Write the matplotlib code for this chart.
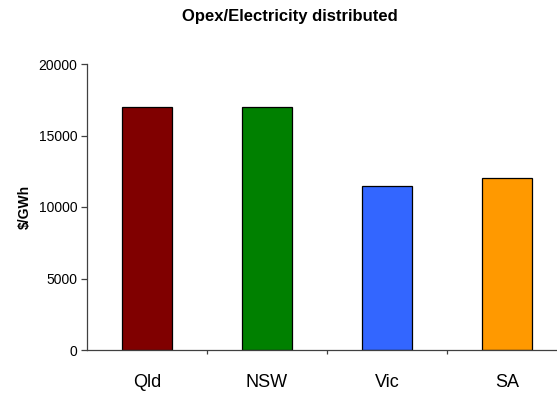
import numpy as np
import matplotlib.pyplot as plt

plt.rcParams['font.family'] = ['Liberation Sans', 'DejaVu Sans']

# opex per unit of electricity distributed, by state
states = ['Qld', 'NSW', 'Vic', 'SA']
opex_per_gwh = [17000, 17000, 11500, 12000]
bar_colors = ['#800000', '#008000', '#3366FF', '#FF9900']

fig = plt.figure(figsize=(5.57, 3.93), dpi=100)
ax = fig.add_axes([87 / 557, 43 / 393, 480 / 557, 286 / 393])

x = np.arange(len(states))
ax.bar(x, opex_per_gwh, width=0.41, color=bar_colors, edgecolor='black', linewidth=0.9)

ax.set_xlim(-0.5, len(states) - 0.5)
ax.set_ylim(0, 20000)
ax.set_yticks([0, 5000, 10000, 15000, 20000])

# category ticks sit between the bars, labels centred under them
ax.set_xticks(x[:-1] + 0.5)
ax.set_xticklabels([])
ax.set_xticks(x, minor=True)
ax.set_xticklabels(states, minor=True, fontsize=13)
ax.tick_params(axis='x', which='minor', length=0, pad=17.5)
ax.tick_params(axis='x', which='major', length=3, width=0.9, color='#404040')
ax.tick_params(axis='y', length=4, width=0.9, color='#404040', labelsize=10, pad=3)

for side in ['top', 'right']:
    ax.spines[side].set_visible(False)
for side in ['left', 'bottom']:
    ax.spines[side].set_color('#404040')
    ax.spines[side].set_linewidth(0.9)

ax.set_ylabel('$/GWh', fontsize=10, fontweight='bold', labelpad=5)
fig.text(290 / 557, 1 - 16 / 393, 'Opex/Electricity distributed', ha='center', va='center',
         fontsize=12, fontweight='bold')

fig.savefig('out.png', dpi=100)
